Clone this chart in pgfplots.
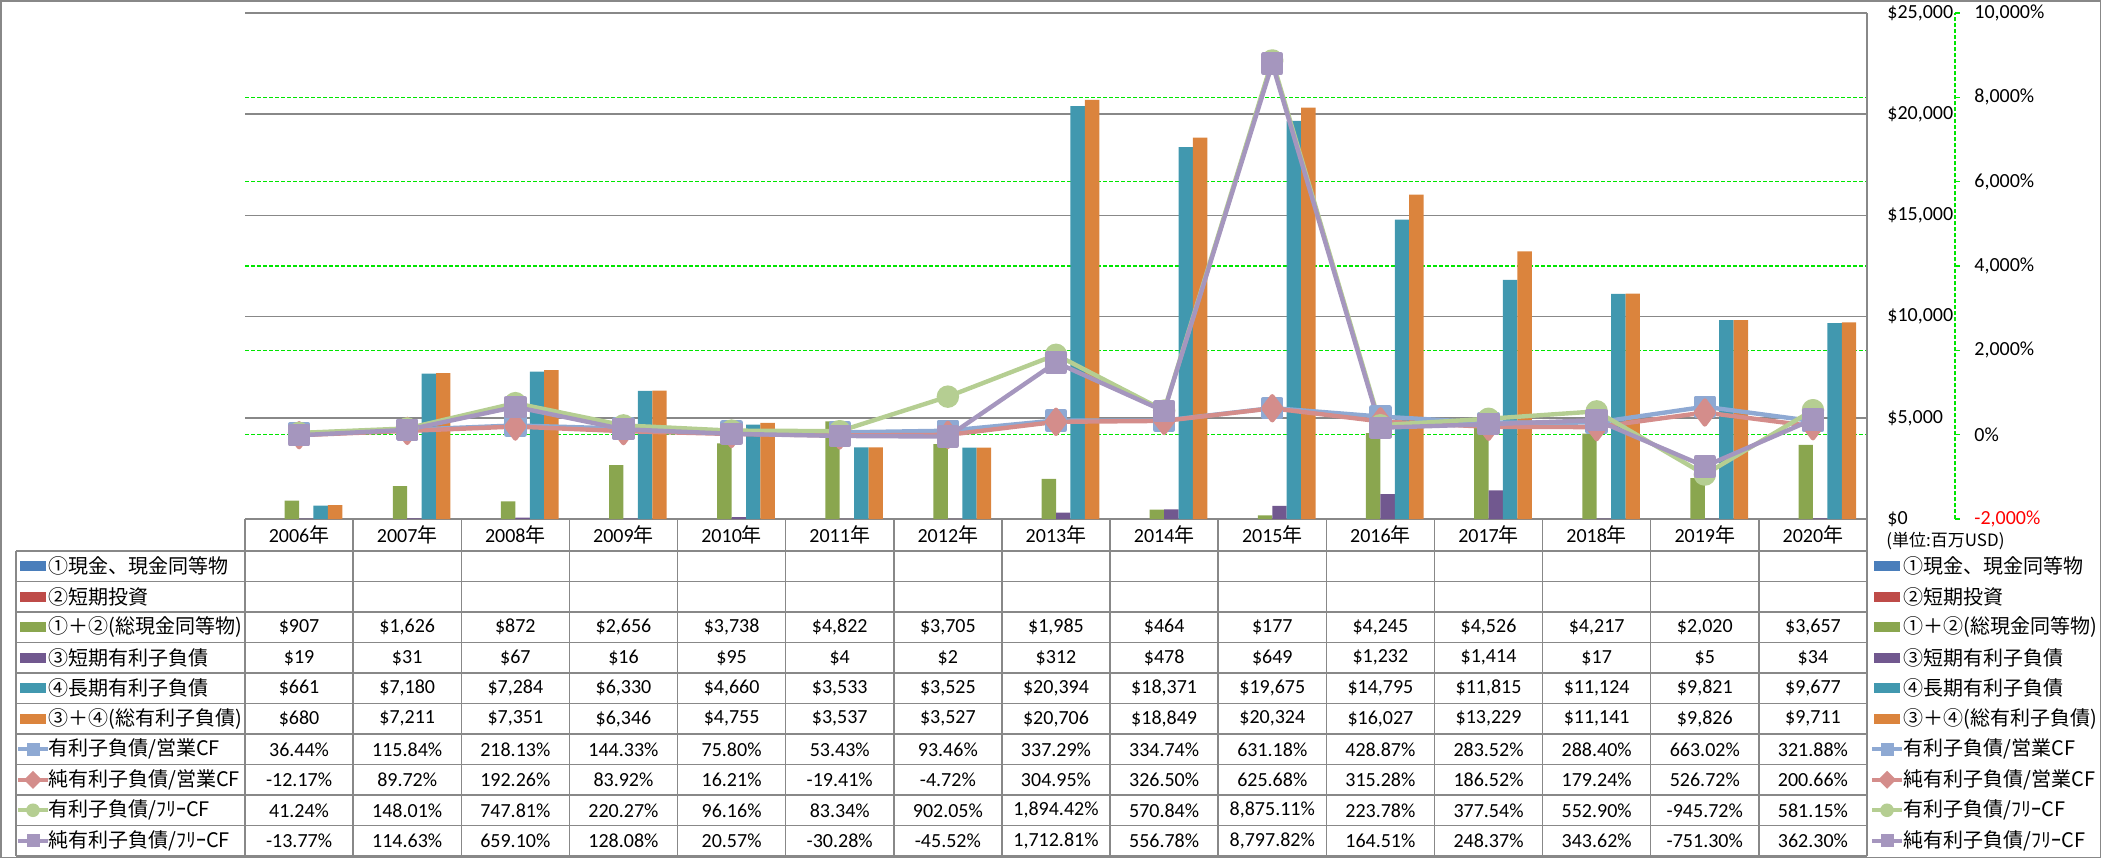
\documentclass[border=0pt]{standalone}
\usepackage{fontspec}
\setmainfont{Carlito}
\newfontfamily\jp{Noto Sans CJK JP}
\usepackage{pgfplots}
\usepackage{pgfplotstable}
\pgfplotsset{compat=1.18}
\definecolor{cBlue}{HTML}{4A7EBB}
\definecolor{cRed}{HTML}{BE4B48}
\definecolor{cGreen}{HTML}{8AA64F}
\definecolor{cPurple}{HTML}{71588F}
\definecolor{cTeal}{HTML}{4198AF}
\definecolor{cOrange}{HTML}{DB843D}
\definecolor{lBlue}{HTML}{8EA9D3}
\definecolor{lPink}{HTML}{D48D8B}
\definecolor{lGreen}{HTML}{B5CE92}
\definecolor{lPurple}{HTML}{A596BE}
\definecolor{gridgray}{HTML}{888888}
\definecolor{gLine}{HTML}{00E600}

\pgfplotstableread{
x c d e f g h i j
0 907 19 661 680 36.44 -12.17 41.24 -13.77
1 1626 31 7180 7211 115.84 89.72 148.01 114.63
2 872 67 7284 7351 218.13 192.26 747.81 659.10
3 2656 16 6330 6346 144.33 83.92 220.27 128.08
4 3738 95 4660 4755 75.80 16.21 96.16 20.57
5 4822 4 3533 3537 53.43 -19.41 83.34 -30.28
6 3705 2 3525 3527 93.46 -4.72 902.05 -45.52
7 1985 312 20394 20706 337.29 304.95 1894.42 1712.81
8 464 478 18371 18849 334.74 326.50 570.84 556.78
9 177 649 19675 20324 631.18 625.68 8875.11 8797.82
10 4245 1232 14795 16027 428.87 315.28 223.78 164.51
11 4526 1414 11815 13229 283.52 186.52 377.54 248.37
12 4217 17 11124 11141 288.40 179.24 552.90 343.62
13 2020 5 9821 9826 663.02 526.72 -945.72 -751.30
14 3657 34 9677 9711 321.88 200.66 581.15 362.30
}\data

\pgfplotsset{
  base/.style={at={(122.5pt,-6.5pt)}, anchor=north west, scale only axis,
    width=811pt, height=253pt, xmin=-0.5, xmax=14.5, xtick=\empty,
    major tick length=0pt, scaled y ticks=false},
}

\newcommand\barsw[3]{\fill[#3] ({#1},{#2-5}) rectangle ({#1+26},{#2+5});}
\newcommand\linesw[4]{%
  \draw[#3, line width=2pt] ({#1},{#2}) -- ({#1+30},{#2});
  \ifcase#4
    \fill[#3] ({#1+15-6.5},{#2-6.5}) rectangle ({#1+15+6.5},{#2+6.5});
  \or
    \fill[#3] ({#1+15-9},{#2}) -- ({#1+15},{#2-9}) -- ({#1+15+9},{#2}) -- ({#1+15},{#2+9}) -- cycle;
  \or
    \fill[#3] ({#1+15},{#2}) circle (3.4pt);
  \fi}

\begin{document}
\begin{tikzpicture}
\begin{scope}[x=0.5pt,y=-0.5pt]
\path[use as bounding box] (0,0) rectangle (2101,858);
\end{scope}

% green dashed grid of the percentage axis
\begin{axis}[base, ymin=-2000, ymax=10000, ytick={0,2000,4000,6000,8000},
  yticklabel=\empty, axis line style={draw=none},
  ymajorgrids, major grid style={draw=gLine, line width=0.6pt, dash pattern=on 2pt off 1pt}]
\addplot[draw=none] coordinates {(0,0)};
\end{axis}

% bars
\begin{axis}[base, ymin=0, ymax=25000, ytick={0,5000,10000,15000,20000,25000},
  axis x line*=bottom, axis y line*=right,
  axis line style={draw=gridgray, line width=0.75pt},
  ymajorgrids, major grid style={draw=gridgray, line width=0.75pt},
  yticklabel={\$\pgfmathprintnumber{\tick}},
  yticklabel style={anchor=west, inner sep=0pt, xshift=10pt,
    /pgf/number format/.cd, fixed, precision=0, 1000 sep={,}, assume math mode=true}]
\addplot[ybar, bar width=0.13333, bar shift=-0.066667, fill=cGreen, draw=none] table[x=x,y=c]{\data};
\addplot[ybar, bar width=0.13333, bar shift=0.066667, fill=cPurple, draw=none] table[x=x,y=d]{\data};
\addplot[ybar, bar width=0.13333, bar shift=0.2, fill=cTeal, draw=none] table[x=x,y=e]{\data};
\addplot[ybar, bar width=0.13333, bar shift=0.333333, fill=cOrange, draw=none] table[x=x,y=f]{\data};
\end{axis}

% lines
\begin{axis}[base, ymin=-2000, ymax=10000, ytick={-2000,0,2000,4000,6000,8000,10000},
  yticklabels={{\color{red}-2,000\%},0\%,{2,000\%},{4,000\%},{6,000\%},{8,000\%},{10,000\%}},
  axis line style={draw=none}, yticklabel pos=right,
  yticklabel style={anchor=west, inner sep=0pt, xshift=53.5pt}, clip=false]
\draw[gLine, line width=0.6pt, dash pattern=on 2pt off 1pt] ([xshift=44pt]rel axis cs:1,0) -- ([xshift=44pt]rel axis cs:1,1);
\pgfplotsinvokeforeach{-2000,0,2000,4000,6000,8000,10000}{
  \draw[gLine, line width=0.6pt] ([xshift=44pt]axis cs:14.5,#1) -- ([xshift=46.5pt]axis cs:14.5,#1);
}
\addplot[lBlue, line width=2.2pt, line join=round, mark=square*, mark size=4.5pt, mark options={solid, fill=lBlue}] table[x=x,y=g]{\data};
\addplot[lPink, line width=2.2pt, line join=round, mark=diamond*, mark size=6pt, mark options={solid, fill=lPink}] table[x=x,y=h]{\data};
\addplot[lGreen, line width=2.2pt, line join=round, mark=*, mark size=4.5pt, mark options={solid, fill=lGreen}] table[x=x,y=i]{\data};
\addplot[lPurple, line width=2.2pt, line join=round, mark=square*, mark size=4.5pt, mark options={solid, fill=lPurple}] table[x=x,y=j]{\data};
\end{axis}

% data table
\begin{scope}[x=0.5pt,y=-0.5pt]
\def\cw{108.1333}
\def\rh{30.5}
\foreach \k in {0,...,10} \draw[gridgray, line width=0.75pt] (16,{551+\k*\rh}) -- (1867,{551+\k*\rh});
\foreach \j in {0,...,15} \draw[gridgray, line width=0.75pt] ({245+\j*\cw},519) -- ({245+\j*\cw},856);
\draw[gridgray, line width=0.75pt] (16,551) -- (16,856);
\draw[gridgray, line width=0.75pt] (0.75,0.75) rectangle (2100.25,857.25);
\foreach \yr [count=\j from 0] in {2006,...,2020}
  \node at ({245+(\j+0.5)*\cw},535) {\yr{\jp 年}};
\node[anchor=west, inner sep=0pt] at (1886,541) {\jp\fontsize{8.5}{10}\selectfont (単位:百万USD)};
% values
\foreach \col/\r in {c/2,d/3,e/4,f/5}{
  \foreach \i in {0,...,14}{
    \pgfplotstablegetelem{\i}{\col}\of\data
    \node at ({245+(\i+0.5)*\cw},{551+(\r+0.5)*\rh})
      {\$\pgfmathprintnumber[fixed,precision=0,1000 sep={,},assume math mode=true]{\pgfplotsretval}};
  }
}
\foreach \col/\r in {g/6,h/7,i/8,j/9}{
  \foreach \i in {0,...,14}{
    \pgfplotstablegetelem{\i}{\col}\of\data
    \node at ({245+(\i+0.5)*\cw},{551+(\r+0.5)*\rh})
      {\pgfmathprintnumber[fixed,precision=2,fixed zerofill,1000 sep={,},assume math mode=true]{\pgfplotsretval}\%};
  }
}
% row labels and legend
\foreach \xs/\xt in {20/48, 1874/1903}{
  \barsw{\xs}{566.25}{cBlue}
  \node[anchor=west, inner sep=0pt] at (\xt,566.25) {\jp ①現金、現金同等物};
  \barsw{\xs}{596.75}{cRed}
  \node[anchor=west, inner sep=0pt] at (\xt,596.75) {\jp ②短期投資};
  \barsw{\xs}{627.25}{cGreen}
  \node[anchor=west, inner sep=0pt] at (\xt,627.25) {\jp ①＋②(総現金同等物)};
  \barsw{\xs}{657.75}{cPurple}
  \node[anchor=west, inner sep=0pt] at (\xt,657.75) {\jp ③短期有利子負債};
  \barsw{\xs}{688.25}{cTeal}
  \node[anchor=west, inner sep=0pt] at (\xt,688.25) {\jp ④長期有利子負債};
  \barsw{\xs}{718.75}{cOrange}
  \node[anchor=west, inner sep=0pt] at (\xt,718.75) {\jp ③＋④(総有利子負債)};
}
\foreach \xs/\xt in {18/48, 1872/1903}{
  \linesw{\xs}{749.25}{lBlue}{0}
  \node[anchor=west, inner sep=0pt] at (\xt,749.25) {\jp 有利子負債/営業CF};
  \linesw{\xs}{779.75}{lPink}{1}
  \node[anchor=west, inner sep=0pt] at (\xt,779.75) {\jp 純有利子負債/営業CF};
  \linesw{\xs}{810.25}{lGreen}{2}
  \node[anchor=west, inner sep=0pt] at (\xt,810.25) {\jp 有利子負債/ﾌﾘｰCF};
  \linesw{\xs}{840.75}{lPurple}{0}
  \node[anchor=west, inner sep=0pt] at (\xt,840.75) {\jp 純有利子負債/ﾌﾘｰCF};
}
\end{scope}
\end{tikzpicture}
\end{document}
